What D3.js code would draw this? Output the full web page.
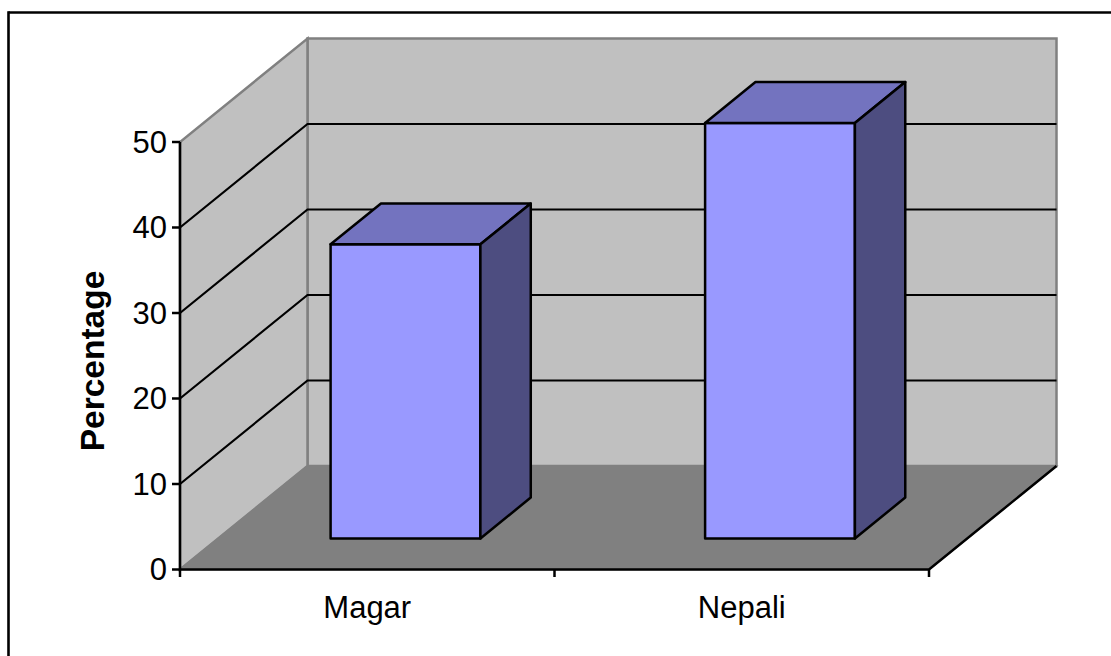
<!DOCTYPE html>
<html>
<head>
<meta charset="utf-8">
<script src="https://cdn.jsdelivr.net/npm/d3@7/dist/d3.min.js"></script>
<style>
html, body { margin: 0; padding: 0; background: #fff; }
svg { display: block; }
text { font-family: "Liberation Sans", Arial, sans-serif; fill: #000; }
</style>
</head>
<body>
<svg id="chart" width="1111" height="656"></svg>
<script>
const categories = ["Magar", "Nepali"];
const percentages = [34.4, 48.6];
const yTicks = [0, 10, 20, 30, 40, 50];
const axisTitle = "Percentage";

const svg = d3.select("#chart");

// Front plane of the box and the oblique offset towards its back wall.
const frontLeft = 180, frontRight = 929, frontBase = 569.5, frontTop = 142;
const depthX = 127.5, depthY = -103.5;
const barDepthNear = 0.3, barDepthFar = 0.695;

const x = d3.scaleBand().domain(categories).range([frontLeft, frontRight])
  .paddingInner(0.6).paddingOuter(0.3);
const xEdges = d3.scalePoint().domain(d3.range(categories.length + 1)).range([frontLeft, frontRight]);
const y = d3.scaleLinear().domain([0, 50]).range([frontBase, frontTop]);

// Oblique projection: a screen x, a value and a depth fraction give a screen point.
const pt = (px, v, d) => [px + depthX * d, y(v) + depthY * d];
const poly = pts => d3.line()(pts) + "Z";

// Only the top and left sides of the frame are visible; they run off the page.
const frame = svg.append("g").attr("stroke", "#000").attr("stroke-width", 2.6);
frame.append("line").attr("x1", 8.5).attr("x2", 1111).attr("y1", 12.5).attr("y2", 12.5);
frame.append("line").attr("x1", 8.5).attr("x2", 8.5).attr("y1", 11.2).attr("y2", 656);

const wallGrey = "#c0c0c0", wallEdge = "#808080", floorGrey = "#808080";

// Back wall, side wall, floor.
svg.append("path")
  .attr("d", poly([pt(frontLeft, 0, 1), pt(frontRight, 0, 1), pt(frontRight, 50, 1), pt(frontLeft, 50, 1)]))
  .attr("fill", wallGrey).attr("stroke", wallEdge).attr("stroke-width", 2.5);
svg.append("path")
  .attr("d", poly([pt(frontLeft, 0, 0), pt(frontLeft, 0, 1), pt(frontLeft, 50, 1), pt(frontLeft, 50, 0)]))
  .attr("fill", wallGrey).attr("stroke", wallEdge).attr("stroke-width", 2.5);
svg.append("path")
  .attr("d", poly([pt(frontLeft, 0, 0), pt(frontRight, 0, 0), pt(frontRight, 0, 1), pt(frontLeft, 0, 1)]))
  .attr("fill", floorGrey).attr("stroke", wallEdge).attr("stroke-width", 1.5);

// Gridlines run along the side wall and across the back wall.
const grid = yTicks.filter(t => t > 0 && t < 50);
svg.append("g").selectAll("path").data(grid).join("path")
  .attr("fill", "none").attr("stroke", "#000").attr("stroke-width", 2.2)
  .attr("d", t => d3.line()([pt(frontLeft, t, 0), pt(frontLeft, t, 1), pt(frontRight, t, 1)]));

// Axis lines on the front plane.
const axes = svg.append("g").attr("stroke", "#000").attr("stroke-width", 2.5).attr("fill", "none");
axes.append("path").attr("d", d3.line()([pt(frontLeft, 50, 0), pt(frontLeft, 0, 0), pt(frontRight, 0, 0), pt(frontRight, 0, 1)]));
axes.selectAll(".ytick").data(yTicks).join("line").attr("class", "ytick")
  .attr("x1", frontLeft - 8).attr("x2", frontLeft).attr("y1", d => y(d)).attr("y2", d => y(d));
axes.selectAll(".xtick").data(xEdges.domain()).join("line").attr("class", "xtick")
  .attr("x1", d => xEdges(d)).attr("x2", d => xEdges(d))
  .attr("y1", frontBase).attr("y2", frontBase + 7.5);

// Bars: front face, top face, right side face.
const bars = svg.append("g").selectAll("g")
  .data(categories.map((c, i) => ({ c, v: percentages[i] }))).join("g")
  .attr("stroke", "#000").attr("stroke-width", 2.5).attr("stroke-linejoin", "round");
bars.append("path").attr("fill", "#9999ff").attr("d", d => {
  const l = x(d.c), r = l + x.bandwidth();
  return poly([pt(l, 0, barDepthNear), pt(r, 0, barDepthNear), pt(r, d.v, barDepthNear), pt(l, d.v, barDepthNear)]);
});
bars.append("path").attr("fill", "#7373bf").attr("d", d => {
  const l = x(d.c), r = l + x.bandwidth();
  return poly([pt(l, d.v, barDepthNear), pt(r, d.v, barDepthNear), pt(r, d.v, barDepthFar), pt(l, d.v, barDepthFar)]);
});
bars.append("path").attr("fill", "#4d4d80").attr("d", d => {
  const r = x(d.c) + x.bandwidth();
  return poly([pt(r, 0, barDepthNear), pt(r, 0, barDepthFar), pt(r, d.v, barDepthFar), pt(r, d.v, barDepthNear)]);
});

// Labels.
svg.append("g").selectAll("text").data(yTicks).join("text")
  .attr("x", frontLeft - 13).attr("y", d => y(d)).attr("dy", "0.35em")
  .attr("text-anchor", "end").attr("font-size", 31).text(d => d);
svg.append("g").selectAll("text").data(categories).join("text")
  .attr("x", d => x(d) + x.bandwidth() / 2).attr("y", 618)
  .attr("text-anchor", "middle").attr("font-size", 31).text(d => d);
svg.append("text").attr("transform", "translate(104,361) rotate(-90)")
  .attr("text-anchor", "middle").attr("font-size", 33.5).attr("font-weight", "bold").text(axisTitle);
</script>
</body>
</html>
